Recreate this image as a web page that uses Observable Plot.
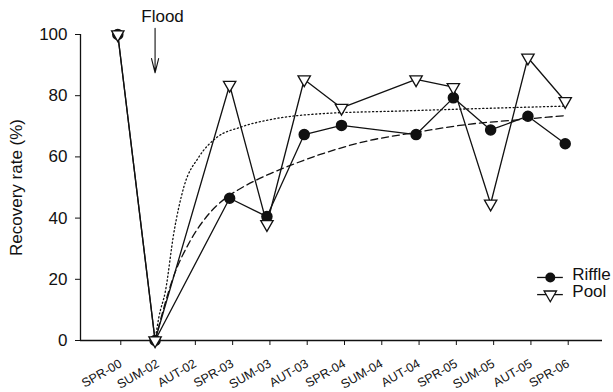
<!DOCTYPE html>
<html>
<head>
<meta charset="utf-8">
<script src="https://cdn.jsdelivr.net/npm/d3@7"></script>
<script src="https://cdn.jsdelivr.net/npm/@observablehq/plot@0.6"></script>
<style>
  html, body { margin: 0; padding: 0; background: #fff; }
  #chart svg { display: block; }
</style>
</head>
<body>
<div id="chart"></div>
<script>
// Sampling occasions (tick labels)
const seasons = ["SPR-00","SUM-02","AUT-02","SPR-03","SUM-03","AUT-03","SPR-04","SUM-04","AUT-04","SPR-05","SUM-05","AUT-05","SPR-06"];
// Recovery rate (%) per occasion (null = not sampled)
const riffle = [100, 0, null, 46.5, 40.5, 67.3, 70.3, null, 67.3, 79.3, 68.8, 73.3, 64.3];
const pool   = [100, 0, null, 83.5, 38.0, 85.3, 76.0, null, 85.3, 82.8, 44.7, 92.4, 78.2];

// Fitted recovery curves (position on occasion axis)
const poolFitX = [1, 1.1, 1.28, 1.5, 1.77, 2.17, 2.66, 3.29, 4.18, 5.43, 7.58, 10.26, 12];
const poolFitY = [0, 7.5, 16.3, 34.9, 50.1, 59.9, 66.4, 69.7, 72.4, 74.1, 75.0, 76.0, 76.6];
const riffleFitX = [1, 1.49, 1.94, 2.39, 2.92, 3.28, 3.99, 4.71, 5.43, 6.69, 7.99, 9.37, 10.71, 12];
const riffleFitY = [0, 20.7, 32.5, 40.6, 46.8, 49.6, 54.0, 57.6, 60.8, 65.2, 68.0, 70.6, 72.1, 73.5];

const yTicks = [0, 20, 40, 60, 80, 100];
const seriesNames = ["Riffle", "Pool"];

const toRows = (vals) => vals.map((v, i) => ({x: i, y: v})).filter(d => d.y != null);
const riffleRows = toRows(riffle);
const poolRows = toRows(pool);
const poolFit = poolFitX.map((x, i) => ({x, y: poolFitY[i]}));
const riffleFit = riffleFitX.map((x, i) => ({x, y: riffleFitY[i]}));

// downward-pointing triangle symbol
const triangleDown = {
  draw(context, size) {
    const s = Math.sqrt(size / (Math.sqrt(3) / 4));
    const ht = s * Math.sqrt(3) / 2;
    context.moveTo(-s / 2, -ht / 3);
    context.lineTo(s / 2, -ht / 3);
    context.lineTo(0, 2 * ht / 3);
    context.closePath();
  }
};

const font = "'Liberation Sans', Arial, Helvetica, sans-serif";
const lw = 1.3;

const chart = Plot.plot({
  width: 613,
  height: 392,
  marginLeft: 80,
  marginRight: 11,
  marginTop: 34,
  marginBottom: 52,
  style: {fontFamily: font, color: "#111", background: "#fff"},
  x: {domain: [-1, 13], type: "linear"},
  y: {domain: [0, 100]},
  marks: [
    Plot.axisY({ticks: yTicks, tickSize: 5, tickPadding: 8, fontSize: 17,
      label: "Recovery rate (%)", labelAnchor: "center", labelArrow: "none", labelOffset: 71}),
    Plot.axisX({ticks: d3.range(seasons.length), tickFormat: i => seasons[i], tickSize: 5,
      tickRotate: -30, tickPadding: 17, dx: 3, fontSize: 12.5, label: null}),
    Plot.ruleX([-1], {y1: 0, y2: 100, stroke: "#111", strokeWidth: 1.3}),
    Plot.ruleY([0], {x1: -1, x2: 13, stroke: "#111", strokeWidth: 1.3}),
    // fitted curves
    Plot.line(poolFit, {x: "x", y: "y", curve: "monotone-x", stroke: "#111", strokeWidth: 1.3, strokeDasharray: "1.2,2.6"}),
    Plot.line(riffleFit, {x: "x", y: "y", curve: "monotone-x", stroke: "#111", strokeWidth: 1.3, strokeDasharray: "7,4"}),
    // observed
    Plot.line(riffleRows, {x: "x", y: "y", stroke: "#111", strokeWidth: lw}),
    Plot.line(poolRows, {x: "x", y: "y", stroke: "#111", strokeWidth: lw}),
    Plot.dot(riffleRows, {x: "x", y: "y", r: 5, fill: "#111", stroke: "#111"}),
    Plot.dot(poolRows, {x: "x", y: "y", symbol: triangleDown, r: 4.6, fill: "#fff", stroke: "#111", strokeWidth: 1.3}),
    // flood annotation
    Plot.text(["Flood"], {x: 1.2, y: 106, fontSize: 17, fill: "#111"}),
    Plot.arrow([0], {x1: 1, y1: 102, x2: 1, y2: 87.5, stroke: "#111", strokeWidth: 1.1, headLength: 20, headAngle: 28}),
    // legend
    Plot.ruleY([20.6, 15.0], {x1: 11.26, x2: 11.95, stroke: "#111", strokeWidth: lw}),
    Plot.dot([20.6], {x: 11.6, y: d => d, r: 5, fill: "#111"}),
    Plot.dot([15.0], {x: 11.6, y: d => d, symbol: triangleDown, r: 4.6, fill: "#fff", stroke: "#111", strokeWidth: 1.3}),
    Plot.text(seriesNames, {x: 12.19, y: (d, i) => [21.7, 15.9][i], text: d => d, textAnchor: "start", fontSize: 17, fill: "#111"})
  ]
});
document.getElementById("chart").appendChild(chart);
</script>
</body>
</html>
